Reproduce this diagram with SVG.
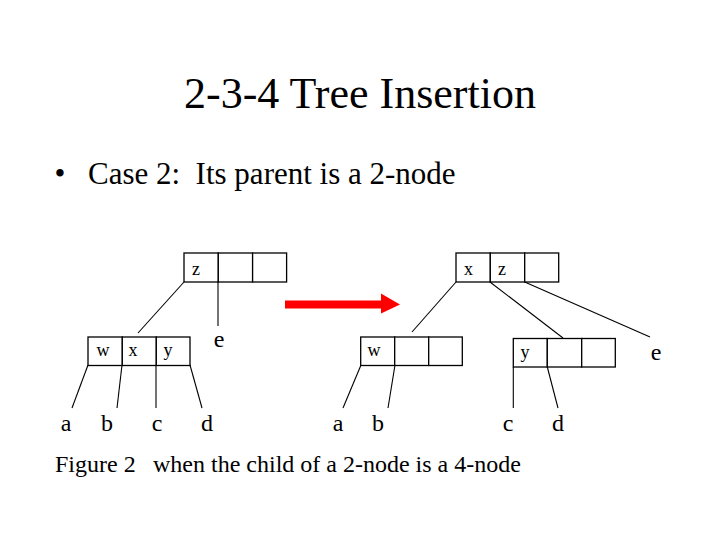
<svg xmlns="http://www.w3.org/2000/svg" width="720" height="540" viewBox="0 0 720 540">
<style>
text{font-family:"Liberation Serif","Times New Roman",serif;fill:#000}
.cell{fill:#fff;stroke:#000;stroke-width:1.3}
.k{font-size:18px;text-anchor:middle}
.leaf{font-size:24px;text-anchor:middle}
.ln{stroke:#000;stroke-width:1.1;fill:none}
</style>
<rect width="720" height="540" fill="#fff"/>
<text x="360" y="108" font-size="44" text-anchor="middle">2-3-4 Tree Insertion</text>
<text x="60" y="184" font-size="31" text-anchor="middle">•</text>
<text x="88" y="184" font-size="31" xml:space="preserve">Case 2:  Its parent is a 2-node</text>

<g id="connectors">
  <line class="ln" x1="184" y1="282" x2="138" y2="333"/>
  <line class="ln" x1="218" y1="282" x2="218" y2="326"/>
  <line class="ln" x1="88" y1="365" x2="72" y2="408"/>
  <line class="ln" x1="122" y1="365" x2="117" y2="408"/>
  <line class="ln" x1="156" y1="365" x2="156" y2="408"/>
  <line class="ln" x1="190" y1="365" x2="202" y2="408"/>
  <line class="ln" x1="456" y1="282" x2="412" y2="332"/>
  <line class="ln" x1="490" y1="282" x2="563" y2="338"/>
  <line class="ln" x1="524.7" y1="282" x2="650" y2="337"/>
  <line class="ln" x1="361" y1="365" x2="343" y2="408"/>
  <line class="ln" x1="395" y1="365" x2="388" y2="408"/>
  <line class="ln" x1="513.3" y1="367" x2="513.3" y2="408"/>
  <line class="ln" x1="547.3" y1="367" x2="558" y2="408"/>
</g>

<g id="node-z-left">
  <rect class="cell" x="184" y="253" width="34.3" height="29"/>
  <rect class="cell" x="218.3" y="253" width="34.3" height="29"/>
  <rect class="cell" x="252.6" y="253" width="34" height="29"/>
  <text class="k" x="196" y="275">z</text>
</g>
<g id="node-wxy">
  <rect class="cell" x="88" y="337" width="34.3" height="28.5"/>
  <rect class="cell" x="122.3" y="337" width="34" height="28.5"/>
  <rect class="cell" x="156.3" y="337" width="33.7" height="28.5"/>
  <text class="k" x="103" y="356">w</text>
  <text class="k" x="133" y="356">x</text>
  <text class="k" x="168" y="356">y</text>
</g>
<g id="node-xz">
  <rect class="cell" x="456" y="253" width="34.3" height="29"/>
  <rect class="cell" x="490.3" y="253" width="34.4" height="29"/>
  <rect class="cell" x="524.7" y="253" width="34" height="29"/>
  <text class="k" x="468.5" y="275">x</text>
  <text class="k" x="502" y="275">z</text>
</g>
<g id="node-w">
  <rect class="cell" x="360.7" y="337" width="34" height="28.5"/>
  <rect class="cell" x="394.7" y="337" width="34" height="28.5"/>
  <rect class="cell" x="428.7" y="337" width="33.6" height="28.5"/>
  <text class="k" x="374" y="356">w</text>
</g>
<g id="node-y">
  <rect class="cell" x="513.3" y="338.5" width="34" height="28.5"/>
  <rect class="cell" x="547.3" y="338.5" width="34.4" height="28.5"/>
  <rect class="cell" x="581.7" y="338.5" width="33.6" height="28.5"/>
  <text class="k" x="525" y="358">y</text>
</g>

<g id="leaves">
  <text class="leaf" x="66" y="431">a</text>
  <text class="leaf" x="107" y="431">b</text>
  <text class="leaf" x="157" y="431">c</text>
  <text class="leaf" x="207" y="431">d</text>
  <text class="leaf" x="219" y="347">e</text>
  <text class="leaf" x="338" y="431">a</text>
  <text class="leaf" x="378" y="431">b</text>
  <text class="leaf" x="508" y="431">c</text>
  <text class="leaf" x="558" y="431">d</text>
  <text class="leaf" x="656" y="360">e</text>
</g>

<g id="arrow">
  <rect x="285" y="300.5" width="97" height="8" fill="#f00"/>
  <polygon points="381,293.5 400,304.5 381,313.5" fill="#f00"/>
</g>

<text x="55" y="472" font-size="24">Figure 2</text>
<text x="153" y="472" font-size="24">when the child of a 2-node is a 4-node</text>
</svg>
